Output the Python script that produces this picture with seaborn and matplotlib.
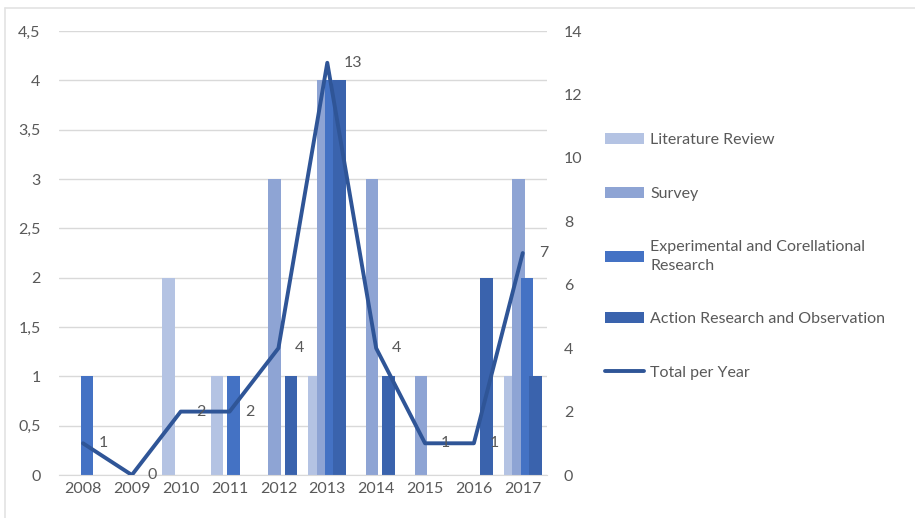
import pandas as pd
import seaborn as sns
import matplotlib.pyplot as plt
import numpy as np
from matplotlib.patches import Patch
from matplotlib.lines import Line2D

# Data
years = ['2008', '2009', '2010', '2011', '2012', '2013', '2014', '2015', '2016', '2017']
literature_review = [0, 0, 2, 1, 0, 1, 0, 0, 0, 1]
survey = [0, 0, 0, 0, 3, 4, 3, 1, 0, 3]
experimental = [1, 0, 0, 1, 0, 4, 0, 0, 0, 2]
action_research = [0, 0, 0, 0, 1, 4, 1, 0, 2, 1]
total_per_year = [1, 0, 2, 2, 4, 13, 4, 1, 1, 7]

series_names = ['Literature Review', 'Survey',
                'Experimental and Corellational\nResearch',
                'Action Research and Observation']
colors = ['#B4C3E3', '#8EA4D4', '#4472C4', '#3A63AD']
line_color = '#2F5597'
text_color = '#595959'

# long format for seaborn
df = pd.DataFrame({'year': years,
                   series_names[0]: literature_review,
                   series_names[1]: survey,
                   series_names[2]: experimental,
                   series_names[3]: action_research})
df_long = df.melt(id_vars='year', var_name='type', value_name='count')

sns.set_style('white')
plt.rcParams['font.family'] = ['Lato', 'DejaVu Sans']
fs = 11.5

fig = plt.figure(figsize=(9.15, 5.18), dpi=100)
ax = fig.add_axes([0.064, 0.083, 0.534, 0.857])

sns.barplot(data=df_long, x='year', y='count', hue='type', hue_order=series_names,
            palette=colors, width=0.68, dodge=True, saturation=1, errorbar=None,
            legend=False, ax=ax)

# Excel style overlapping bars: widen each bar around its centre
for p in ax.patches:
    cx = p.get_x() + p.get_width() / 2
    p.set_width(0.26)
    p.set_x(cx - 0.13)
    p.set_linewidth(0)

ax.set_xlim(-0.5, 9.5)
ax.set_ylim(0, 4.5)
ax.set_yticks(np.arange(0, 4.51, 0.5))
ax.set_yticklabels([('%g' % v).replace('.', ',') for v in np.arange(0, 4.51, 0.5)])
ax.yaxis.grid(True, color='#D9D9D9', linewidth=1)
ax.set_axisbelow(True)
ax.set_xlabel('')
ax.set_ylabel('')
for s in ax.spines.values():
    s.set_visible(False)
ax.spines['bottom'].set_visible(True)
ax.spines['bottom'].set_color('#D9D9D9')
ax.tick_params(axis='both', length=0, colors=text_color, labelsize=fs)
ax.tick_params(axis='y', pad=13)
ax.tick_params(axis='x', pad=5)

# total per year on the secondary axis
ax2 = ax.twinx()
sns.lineplot(x=np.arange(len(years)), y=total_per_year, color=line_color,
             linewidth=2.8, ax=ax2)
ax2.set_ylim(0, 14)
ax2.set_yticks(np.arange(0, 15, 2))
for s in ax2.spines.values():
    s.set_visible(False)
ax2.tick_params(axis='y', length=0, colors=text_color, labelsize=fs, pad=12)

for i, v in enumerate(total_per_year):
    ax2.annotate(str(v), (i, v), xytext=(11.5, 0), textcoords='offset points',
                 ha='left', va='center', fontsize=fs, color=text_color)

# legend on the right
handles = [Patch(facecolor=c, edgecolor='none') for c in colors]
handles.append(Line2D([0], [0], color=line_color, linewidth=2.8))
labels = series_names + ['Total per Year']
leg = fig.legend(handles, labels, loc='center left', bbox_to_anchor=(0.645, 0.505),
                 frameon=False, fontsize=fs, labelcolor=text_color,
                 handlelength=2.5, handleheight=0.7, handletextpad=0.35,
                 labelspacing=2.45)
leg.get_texts()[2].set_linespacing(1.45)

# faint chart border (top and left)
fig.add_artist(Line2D([0.005, 1.0], [0.984, 0.984], color='#E3E3E3', linewidth=1.2,
                      transform=fig.transFigure))
fig.add_artist(Line2D([0.0055, 0.0055], [0.0, 0.984], color='#E3E3E3', linewidth=1.2,
                      transform=fig.transFigure))

fig.savefig('out.png', dpi=100)
